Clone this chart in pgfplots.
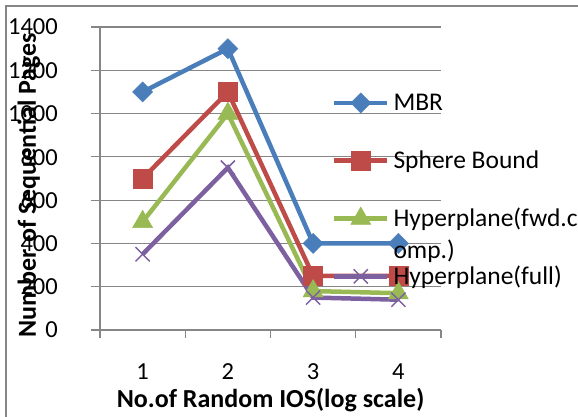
\documentclass[border=0pt]{standalone}
\usepackage{fontspec}
\setmainfont{Carlito}
\usepackage{pgfplots}
\pgfplotsset{compat=1.18}
\definecolor{mbr}{HTML}{4A7EBB}
\definecolor{sph}{HTML}{BE4B48}
\definecolor{fwd}{HTML}{98B954}
\definecolor{full}{HTML}{7D60A0}
\definecolor{gridgray}{HTML}{868686}
\begin{document}
\begin{tikzpicture}[x=1bp,y=1bp]
\useasboundingbox (0,0) rectangle (578,416);
\draw[gridgray, line width=1.5bp] (6,-5) -- (6,410) -- (590,410);
\begin{axis}[
  at={(100bp,86bp)}, anchor=south west,
  scale only axis, width=341bp, height=303bp,
  xmin=0.5, xmax=4.5, ymin=0, ymax=1400,
  xtick={1,2,3,4}, minor xtick={0.5,1.5,2.5,3.5,4.5},
  ytick={0,200,...,1400},
  axis lines=left, axis line style={-, draw=gridgray, line width=1.2bp},
  ymajorgrids, major grid style={draw=gridgray, line width=1.2bp},
  tick align=outside,
  major tick length=9bp, minor tick length=8bp,
  y tick style={draw=gridgray, line width=1.2bp},
  minor x tick style={draw=gridgray, line width=1.2bp},
  major x tick style={draw=none},
  /pgf/number format/assume math mode=true,
  /pgf/number format/1000 sep={},
  yticklabel style={font=\fontsize{24.5bp}{30bp}\selectfont, anchor=east, inner sep=0pt, xshift=-33bp},
  xticklabel style={font=\fontsize{24.5bp}{30bp}\selectfont, anchor=base, inner sep=0pt, yshift=-40bp},
  xlabel={No.of Random IOS(log scale)},
  ylabel={Number of Sequential Pages},
  label style={font=\bfseries\fontsize{26bp}{30bp}\selectfont, inner sep=0pt},
  xlabel style={at={(axis description cs:0.5,-0.2541)}, anchor=base},
  ylabel style={at={(axis description cs:-0.1877,0.4785)}, anchor=base},
  legend image code/.code={\draw[#1, mark repeat=2, mark phase=2] plot coordinates {(0bp,0bp) (26.5bp,0bp) (53bp,0bp)};},
  legend cell align=left,
  legend style={at={(axis description cs:0.6804,0.789)}, anchor=north west,
    draw=none, fill=none, inner sep=0pt, outer sep=0pt,
    row sep=33.8bp, column sep=4bp,
    font=\fontsize{25.5bp}{32bp}\selectfont,
    nodes={inner sep=0pt, text height=20bp, text depth=4bp}},
]
\addplot[mbr, line width=4.5bp, mark=diamond*, mark size=10bp, mark options={solid, xscale=1.33, line width=0.5bp}]
  coordinates {(1,1100) (2,1300) (3,400) (4,400)};
\addlegendentry{MBR}
\addplot[sph, line width=4.5bp, mark=square*, mark size=9.5bp, mark options={solid, line width=0.5bp}]
  coordinates {(1,700) (2,1100) (3,250) (4,250)};
\addlegendentry{Sphere Bound}
\addplot[fwd, line width=4.5bp, mark=triangle*, mark size=11.5bp, mark options={solid, line width=0.5bp}]
  coordinates {(1,500) (2,1000) (3,180) (4,170)};
\addlegendentry{{\begin{tabular}[t]{@{}l@{}}Hyperplane(fwd.c\\omp.)\end{tabular}}}
\addplot[full, line width=4.5bp, mark=x, mark size=10bp, mark options={solid, line width=1.5bp}]
  coordinates {(1,350) (2,750) (3,150) (4,140)};
\addlegendentry{Hyperplane(full)}
\end{axis}
\end{tikzpicture}
\end{document}
